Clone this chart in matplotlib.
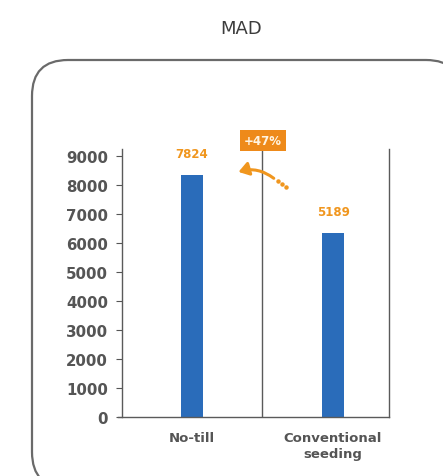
import matplotlib
matplotlib.use('Agg')
import matplotlib.pyplot as plt
from matplotlib.patches import FancyBboxPatch, Polygon
from matplotlib.transforms import IdentityTransform

# data
categories = ['No-till', 'Conventional\nseeding']
bar_heights = [8330, 6340]
value_labels = ['7824', '5189']
change_label = '+47%'
yticks = [0, 1000, 2000, 3000, 4000, 5000, 6000, 7000, 8000, 9000]

blue = '#2a6cba'
orange = '#f0961e'
grey = '#555555'

fig = plt.figure(figsize=(4.43, 4.77), dpi=100)

# rounded frame around the chart (pixel coords), flattened so Agg clips it cleanly
rounded = FancyBboxPatch((32, -12), 430, 428, boxstyle='round,pad=0,rounding_size=36')
verts = rounded.get_path().to_polygons(closed_only=False)[0]
frame = Polygon(verts, closed=True, transform=IdentityTransform(),
                facecolor='none', edgecolor='#6a6a6a', linewidth=1.6)
fig.patches.append(frame)

fig.text(241 / 443, 1 - 29 / 477, 'MAD', ha='center', va='center',
         fontsize=13, color='#3c3c3c')

ax = fig.add_axes([122 / 443, 1 - 418 / 477, (389 - 122) / 443, (418 - 150) / 477])
x = list(range(len(categories)))
ax.bar(x, bar_heights, width=0.16, color=blue, zorder=2)

ax.set_xlim(-0.496, 1.397)
ax.set_ylim(0, 9240)
ax.set_yticks(yticks)
ax.set_yticklabels([str(v) for v in yticks], fontsize=10.8, fontweight='bold', color=grey)
ax.set_xticks(x)
ax.set_xticklabels(categories, fontsize=9.5, fontweight='bold', color=grey, linespacing=1.35)
ax.tick_params(axis='x', length=0, pad=10)
ax.tick_params(axis='y', length=4, width=0.8, color=grey, pad=6)

for side in ['left', 'bottom', 'right']:
    ax.spines[side].set_color('#5a5a5a')
    ax.spines[side].set_linewidth(1)
ax.spines['top'].set_visible(False)
ax.spines['bottom'].set_bounds(-0.525, 1.397)

# divider between the two bars
ax.axvline(0.496, color='#5a5a5a', linewidth=1, zorder=1)

for xi, h, lab in zip(x, bar_heights, value_labels):
    ax.annotate(lab, (xi, h), xytext=(0, 22), textcoords='offset pixels',
                ha='center', va='center', fontsize=8.5, fontweight='bold', color=orange)

ax.text(0.503, 9530, change_label, ha='center', va='center', fontsize=8.5,
        fontweight='bold', color='#fff3e0', clip_on=False, zorder=5,
        bbox=dict(boxstyle='square,pad=0.35', facecolor='#ee8a1a', edgecolor='none'))

# curved arrow pointing back to no-till, dotted tail
ax.annotate('', xy=(0.33, 8450), xytext=(0.58, 8230),
            arrowprops=dict(arrowstyle='-|>,head_length=0.6,head_width=0.4', color=orange,
                            linewidth=2.2, connectionstyle='arc3,rad=0.25',
                            shrinkA=0, shrinkB=0))
ax.plot([0.61, 0.64, 0.67], [8130, 8030, 7930], linestyle='none', marker='o',
        markersize=2.2, color=orange, clip_on=False)

fig.savefig('out.png', dpi=100)
